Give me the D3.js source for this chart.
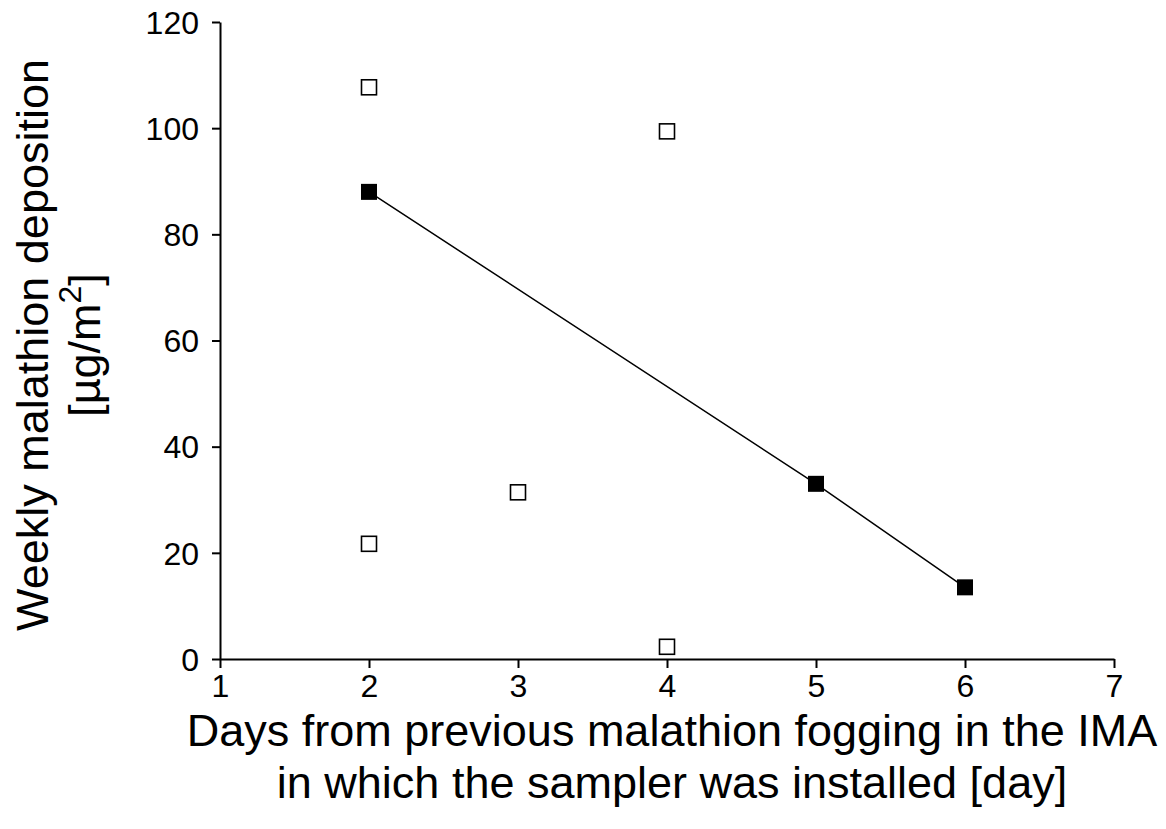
<!DOCTYPE html>
<html>
<head>
<meta charset="utf-8">
<script src="https://cdn.jsdelivr.net/npm/d3@7"></script>
<style>
  body { margin: 0; background: #fff; }
  svg text { font-family: "Liberation Sans", Arial, sans-serif; fill: #000; }
</style>
</head>
<body>
<div class="canvas"></div>
<script>
// data
var openDays = [2, 2, 3, 4, 4];
var openDeposition = [107.7, 21.7, 31.4, 99.4, 2.3];
var fogDays = [2, 5, 6];
var fogDeposition = [88.0, 33.0, 13.5];
var xTicks = [1, 2, 3, 4, 5, 6, 7];
var yTicks = [0, 20, 40, 60, 80, 100, 120];

var width = 1166, height = 829;

var svg = d3.select('.canvas').append('svg')
  .attr('width', width).attr('height', height);

var x = d3.scaleLinear().domain([1, 7]).range([220, 1114]);
var y = d3.scaleLinear().domain([0, 120]).range([659, 22]);

// axes
var yAxis = svg.append('g')
  .attr('transform', 'translate(' + x(1) + ',0)')
  .call(d3.axisLeft(y).tickValues(yTicks).tickFormat(d3.format('d'))
    .tickSize(8).tickPadding(13).tickSizeOuter(0));

var xAxis = svg.append('g')
  .attr('transform', 'translate(0,' + y(0) + ')')
  .call(d3.axisBottom(x).tickValues(xTicks).tickFormat(d3.format('d'))
    .tickSize(9).tickPadding(6).tickSizeOuter(0));

[yAxis, xAxis].forEach(function (a) {
  a.select('.domain').attr('stroke', '#000').attr('stroke-width', 2);
  a.selectAll('.tick line').attr('stroke', '#000').attr('stroke-width', 2);
  a.selectAll('.tick text').style('font-size', '32px').attr('fill', '#000');
});
yAxis.selectAll('.tick text').attr('dy', '0.35em');
xAxis.selectAll('.tick text').attr('dy', '0.71em');

// line through the filled points
var line = d3.line()
  .x(function (d, i) { return x(fogDays[i]); })
  .y(function (d) { return y(d); });

svg.append('path')
  .datum(fogDeposition)
  .attr('d', line)
  .attr('fill', 'none')
  .attr('stroke', '#000')
  .attr('stroke-width', 1.5);

var s = 16;

// open squares
svg.selectAll('rect.open')
  .data(openDeposition)
  .enter()
  .append('rect')
  .classed('open', true)
  .attr('x', function (d, i) { return x(openDays[i]) - s / 2 + 0.5; })
  .attr('y', function (d) { return y(d) - s / 2 + 0.5; })
  .attr('width', s - 1)
  .attr('height', s - 1)
  .attr('fill', '#fff')
  .attr('stroke', '#000')
  .attr('stroke-width', 1.6);

// filled squares
svg.selectAll('rect.fill')
  .data(fogDeposition)
  .enter()
  .append('rect')
  .classed('fill', true)
  .attr('x', function (d, i) { return x(fogDays[i]) - s / 2; })
  .attr('y', function (d) { return y(d) - s / 2; })
  .attr('width', s)
  .attr('height', s)
  .attr('fill', '#000');

// x title
var xt = svg.append('text')
  .attr('text-anchor', 'middle')
  .style('font-size', '45px');
xt.append('tspan').attr('x', 672).attr('y', 746)
  .text('Days from previous malathion fogging in the IMA');
xt.append('tspan').attr('x', 672).attr('y', 798)
  .text('in which the sampler was installed [day]');

// y title
var yt = svg.append('text')
  .attr('text-anchor', 'middle')
  .attr('transform', 'translate(0,345) rotate(-90)')
  .style('font-size', '45px');
yt.append('tspan').attr('x', 0).attr('y', 48)
  .text('Weekly malathion deposition');
yt.append('tspan').attr('x', 0).attr('y', 100).text('[\u00b5g/m');
yt.append('tspan').attr('dy', -19).style('font-size', '32px').text('2');
yt.append('tspan').attr('dy', 19).text(']');
</script>
</body>
</html>
